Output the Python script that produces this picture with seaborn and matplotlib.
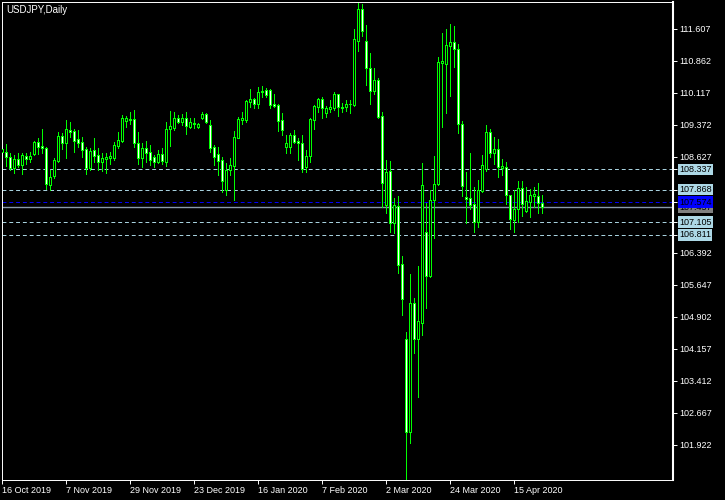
import numpy as np
import pandas as pd
import matplotlib
matplotlib.use("Agg")
import matplotlib.pyplot as plt
import matplotlib.transforms as mtransforms
import seaborn as sns

SYMBOL = "USDJPY,Daily"
FIRST_DAY, LAST_DAY = "2019-10-16", "2020-04-24"
HOLIDAYS = ["2019-12-25", "2020-01-01"]

# daily OHLC
OPEN = [108.74, 108.74, 108.63, 108.37, 108.58, 108.44, 108.65, 108.58, 108.70, 108.98,
        108.88, 108.84, 107.98, 108.18, 108.53, 109.12, 108.95, 109.26, 109.23, 109.05,
        108.98, 108.81, 108.37, 108.79, 108.67, 108.51, 108.58, 108.60, 108.60, 108.88,
        109.00, 109.46, 109.51, 109.51, 108.95, 108.60, 108.84, 108.74, 108.63, 108.51,
        108.70, 108.51, 109.28, 109.30, 109.53, 109.44, 109.53, 109.33, 109.40, 109.33,
        109.53, 109.63, 109.37, 108.86, 108.70, 108.56, 107.86, 108.32, 108.42, 109.07,
        109.49, 109.49, 109.91, 109.98, 109.86, 110.14, 110.19, 110.19, 109.86, 109.84,
        109.49, 108.86, 108.86, 109.14, 109.00, 108.95, 108.39, 108.65, 109.49, 109.79,
        109.98, 109.65, 109.74, 109.77, 110.09, 109.77, 109.79, 109.86, 109.84, 111.33,
        112.07, 111.33, 110.70, 110.16, 110.42, 109.58, 107.51, 108.30, 107.09, 107.49,
        106.13, 104.39, 102.22, 105.23, 104.39, 104.76, 106.88, 105.86, 107.63, 108.00,
        110.82, 110.79, 111.21, 111.30, 111.14, 109.40, 107.70, 107.67, 107.53, 107.11,
        107.84, 108.35, 109.21, 108.72, 108.81, 108.37, 108.39, 107.74, 107.16, 107.42,
        107.91, 107.37, 107.58, 107.72, 107.72, 107.56]
HIGH = [108.88, 108.93, 108.72, 108.67, 108.72, 108.72, 108.72, 108.74, 109.00, 109.07,
        109.28, 108.86, 108.32, 108.60, 109.21, 109.19, 109.49, 109.44, 109.28, 109.26,
        109.09, 108.86, 108.84, 109.07, 108.84, 108.72, 108.72, 108.74, 108.98, 109.21,
        109.60, 109.58, 109.67, 109.72, 109.21, 108.95, 109.00, 108.91, 108.67, 108.79,
        108.84, 109.44, 109.70, 109.67, 109.60, 109.63, 109.67, 109.53, 109.53, 109.42,
        109.67, 109.65, 109.49, 108.91, 108.86, 108.63, 108.49, 108.60, 109.23, 109.56,
        109.67, 109.95, 110.21, 110.00, 110.26, 110.28, 110.23, 110.21, 110.09, 109.86,
        109.65, 109.14, 109.19, 109.26, 109.07, 109.14, 108.79, 109.53, 109.84, 110.00,
        110.02, 109.81, 109.95, 110.14, 110.09, 109.88, 109.95, 109.95, 111.61, 112.21,
        112.19, 111.70, 111.05, 110.70, 110.47, 109.67, 108.56, 108.53, 107.67, 107.72,
        106.32, 104.55, 105.90, 105.34, 106.09, 108.49, 107.56, 107.86, 108.65, 110.95,
        111.51, 111.61, 111.72, 111.68, 111.26, 109.47, 108.28, 108.72, 107.93, 108.09,
        108.67, 109.37, 109.28, 109.09, 109.05, 108.58, 108.51, 107.74, 107.86, 108.07,
        108.07, 107.93, 107.88, 107.93, 108.02, 107.74]
LOW = [108.65, 108.42, 108.32, 108.25, 108.39, 108.23, 108.46, 108.51, 108.67, 108.70,
       108.72, 107.88, 107.86, 108.14, 108.51, 108.81, 108.60, 109.09, 108.74, 108.86,
       108.63, 108.23, 108.32, 108.51, 108.32, 108.30, 108.25, 108.46, 108.56, 108.84,
       108.98, 109.33, 109.39, 108.86, 108.46, 108.39, 108.51, 108.44, 108.39, 108.49,
       108.46, 108.42, 108.88, 109.26, 109.42, 109.37, 109.16, 109.30, 109.30, 109.30,
       109.51, 109.42, 108.74, 108.44, 108.21, 107.81, 107.74, 108.21, 107.63, 109.07,
       109.40, 109.44, 109.79, 109.77, 109.77, 110.02, 110.02, 109.77, 109.79, 109.23,
       109.14, 108.72, 108.72, 108.95, 108.56, 108.28, 108.28, 108.51, 109.28, 109.67,
       109.53, 109.56, 109.67, 109.72, 109.58, 109.67, 109.70, 109.65, 109.81, 111.10,
       111.44, 110.30, 109.86, 110.09, 109.53, 107.46, 107.32, 106.88, 106.86, 105.93,
       104.95, 101.11, 101.97, 104.06, 103.04, 104.48, 105.11, 105.83, 106.74, 107.98,
       109.33, 109.65, 110.05, 110.72, 109.19, 107.72, 107.09, 107.42, 106.88, 107.00,
       107.81, 108.30, 108.63, 108.46, 108.16, 108.21, 107.53, 106.95, 106.88, 107.11,
       107.25, 107.35, 107.23, 107.46, 107.32, 107.32]
CLOSE = [108.81, 108.63, 108.37, 108.58, 108.44, 108.67, 108.58, 108.65, 108.98, 108.86,
         108.84, 108.00, 108.16, 108.56, 109.12, 108.95, 109.28, 109.21, 109.00, 108.95,
         108.79, 108.37, 108.77, 108.65, 108.51, 108.60, 108.63, 108.65, 108.91, 109.02,
         109.53, 109.53, 109.49, 108.95, 108.60, 108.84, 108.72, 108.56, 108.51, 108.70,
         108.53, 109.28, 109.35, 109.53, 109.44, 109.53, 109.35, 109.44, 109.42, 109.40,
         109.63, 109.44, 108.84, 108.63, 108.53, 108.07, 108.32, 108.44, 109.09, 109.51,
         109.53, 109.93, 109.98, 109.86, 110.14, 110.16, 110.07, 109.84, 109.81, 109.47,
         109.26, 108.95, 109.14, 108.98, 108.95, 108.35, 108.65, 109.51, 109.81, 109.98,
         109.77, 109.77, 109.79, 110.09, 109.79, 109.79, 109.86, 109.85, 111.37, 112.07,
         111.56, 110.70, 110.16, 110.42, 109.56, 108.02, 108.28, 107.09, 107.51, 106.11,
         105.32, 102.22, 105.23, 104.39, 104.81, 107.98, 105.86, 107.63, 108.00, 110.84,
         110.86, 111.23, 111.30, 111.14, 109.40, 107.95, 107.65, 107.51, 107.11, 107.86,
         108.44, 109.21, 108.72, 108.81, 108.39, 108.42, 107.74, 107.18, 107.42, 107.91,
         107.53, 107.60, 107.74, 107.77, 107.56, 107.457]

PRICE_TICKS = [111.607, 110.862, 110.117, 109.372, 108.627, 106.392, 105.647,
               104.902, 104.157, 103.412, 102.667, 101.922]
DATE_TICKS = ["2019-10-16", "2019-11-07", "2019-11-29", "2019-12-23", "2020-01-16",
              "2020-02-07", "2020-03-02", "2020-03-24", "2020-04-15"]
LEVELS = [108.337, 107.868, 107.105, 106.811]
PIVOT = 107.574
BID = 107.457

dates = pd.bdate_range(FIRST_DAY, LAST_DAY)
dates = dates[~dates.isin(pd.to_datetime(HOLIDAYS))]
df = pd.DataFrame({"date": dates, "open": OPEN, "high": HIGH, "low": LOW, "close": CLOSE})
df["x"] = np.arange(len(df))
df["bull"] = df["close"] >= df["open"]

sns.set_theme(style="dark", rc={
    "axes.facecolor": "black", "figure.facecolor": "black",
    "axes.edgecolor": "white", "text.color": "white",
    "xtick.color": "white", "ytick.color": "white", "axes.grid": False,
})
plt.rcParams["font.family"] = ["Liberation Sans", "DejaVu Sans"]

fig = plt.figure(figsize=(7.25, 5), dpi=100)
ax = fig.add_axes([2 / 725, 20 / 500, 671 / 725, 478 / 500])

GREEN = "#00ff00"
LW = 0.7
ax.vlines(df["x"], df["low"], df["high"], colors=GREEN, linewidth=LW,
          antialiased=False, zorder=2)
ax.bar(df["x"], (df["close"] - df["open"]).abs(),
       bottom=df[["open", "close"]].min(axis=1), width=0.55,
       color=np.where(df["bull"], "black", "white"), edgecolor=GREEN,
       linewidth=LW, antialiased=False, zorder=3)

# pivot levels + bid line
for v in LEVELS:
    ax.axhline(v, color="#add8e6", linewidth=LW, linestyle=(0, (4, 3)), zorder=1)
ax.axhline(PIVOT, color="#0000ff", linewidth=LW, linestyle=(0, (4, 3)), zorder=1)
ax.axhline(BID, color="#8899aa", linewidth=1.0, zorder=1)

ax.set_xlim(-0.075, len(df) + 31.675)
ax.set_ylim(101.106, 112.235)

for side in ["top", "left", "bottom", "right"]:
    ax.spines[side].set_color("white")
    ax.spines[side].set_linewidth(LW)
ax.spines["right"].set_linewidth(1.5)

ax.yaxis.tick_right()
ax.set_yticks(PRICE_TICKS)
ax.set_yticklabels([f"{v:.3f}" for v in PRICE_TICKS])
ax.set_yticks(LEVELS + [PIVOT], minor=True)
ax.tick_params(axis="y", which="both", left=False, right=True, length=3, width=LW,
               pad=1.5, labelsize=6.5, colors="white", direction="out")

tick_dates = pd.to_datetime(DATE_TICKS)
tick_x = df.loc[df["date"].isin(tick_dates), "x"]
ax.set_xticks(tick_x)
ax.set_xticklabels([f"{d.day} {d:%b %Y}" for d in tick_dates], ha="left")
ax.tick_params(axis="x", bottom=True, length=3, width=LW, pad=1.5, labelsize=6.5,
               colors="white", direction="out")

trans = mtransforms.blended_transform_factory(ax.transAxes, ax.transData)
for v in LEVELS:
    ax.text(1.009, v, f"{v:.3f}", transform=trans, ha="left", va="center",
            fontsize=6.5, color="black", zorder=5,
            bbox=dict(boxstyle="square,pad=0.15", fc="#add8e6", ec="none"))
# bid label sits mostly under the pivot label, as in the terminal
ax.text(1.009, BID, f"{BID:.3f}", transform=trans, ha="left", va="center",
        fontsize=6.5, color="black", zorder=5,
        bbox=dict(boxstyle="square,pad=0.15", fc="#808080", ec="none"))
ax.text(1.009, PIVOT, f"{PIVOT:.3f}", transform=trans, ha="left", va="center",
        fontsize=6.5, color="black", zorder=6,
        bbox=dict(boxstyle="square,pad=0.15", fc="#0000ff", ec="none"))

ax.text(0.007, 0.993, SYMBOL, transform=ax.transAxes, ha="left", va="top",
        fontsize=7, color="white")

fig.savefig("out.png", dpi=100, facecolor="black")
